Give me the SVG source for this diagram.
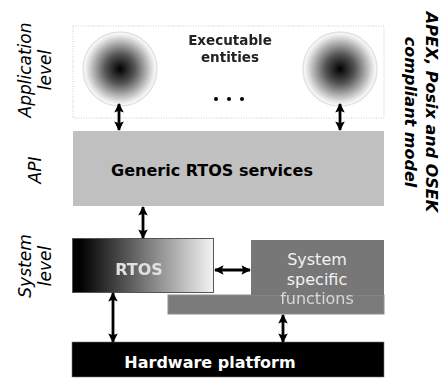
<svg xmlns="http://www.w3.org/2000/svg" width="442" height="378" viewBox="0 0 442 378">
  <style>
    .lbl { font-family: "DejaVu Sans", sans-serif; font-size: 17px; font-style: oblique; fill: #000; }
    .side { font-family: "DejaVu Sans", sans-serif; font-size: 16px; font-weight: bold; font-style: oblique; fill: #000; }
    .bold { font-family: "DejaVu Sans", sans-serif; font-size: 16px; font-weight: bold; }
    .small { font-family: "DejaVu Sans", sans-serif; font-size: 13.5px; font-weight: bold; }
    .reg { font-family: "DejaVu Sans", sans-serif; font-size: 16px; }
    .arrow { stroke: #000; stroke-width: 2.8; fill: none; marker-start: url(#head); marker-end: url(#head); }
  </style>
  <defs>
    <marker id="head" viewBox="0 0 10 10" refX="9" refY="5" markerWidth="3.4" markerHeight="3.4" orient="auto-start-reverse" markerUnits="strokeWidth">
      <path d="M0,0 L10,5 L0,10 L2,5 z" fill="#000"/>
    </marker>
    <radialGradient id="entity" cx="0.5" cy="0.5" r="0.5">
      <stop offset="0" stop-color="#000"/>
      <stop offset="0.4" stop-color="#555"/>
      <stop offset="0.9" stop-color="#e8e8e8"/>
      <stop offset="1" stop-color="#fff"/>
    </radialGradient>
    <linearGradient id="rtosFill" x1="0" y1="0" x2="1" y2="0">
      <stop offset="0" stop-color="#000"/>
      <stop offset="0.05" stop-color="#000"/>
      <stop offset="1" stop-color="#f4f4f4"/>
    </linearGradient>
    <filter id="soft" x="-10%" y="-30%" width="120%" height="160%">
      <feGaussianBlur stdDeviation="0.6"/>
    </filter>
  </defs>

  <!-- level captions on the left -->
  <g id="captions">
    <text class="lbl" transform="translate(31,70) rotate(-90)" text-anchor="middle">Application</text>
    <text class="lbl" transform="translate(51,70) rotate(-90)" text-anchor="middle">level</text>
    <text class="lbl" transform="translate(41,170) rotate(-90)" text-anchor="middle">API</text>
    <text class="lbl" transform="translate(31,266) rotate(-90)" text-anchor="middle">System</text>
    <text class="lbl" transform="translate(51,266) rotate(-90)" text-anchor="middle">level</text>
  </g>

  <!-- model caption on the right -->
  <g id="model">
    <text class="side" transform="translate(426,112) rotate(90)" text-anchor="middle">APEX, Posix and OSEK</text>
    <text class="side" transform="translate(405,112) rotate(90)" text-anchor="middle">compliant model</text>
  </g>

  <!-- application layer -->
  <g id="application">
    <rect x="73" y="26" width="311" height="92" fill="#fff" stroke="#ccc" stroke-width="1" stroke-dasharray="1,1.5"/>
    <circle cx="120" cy="69" r="37" fill="url(#entity)" stroke="#e2e2e2" stroke-width="1.5"/>
    <circle cx="340" cy="69" r="37" fill="url(#entity)" stroke="#e2e2e2" stroke-width="1.5"/>
    <g filter="url(#soft)" fill="#222">
      <text class="small" x="230" y="45" text-anchor="middle">Executable</text>
      <text class="small" x="230" y="62" text-anchor="middle">entities</text>
    </g>
    <circle cx="216" cy="99" r="2" fill="#000"/>
    <circle cx="229" cy="99" r="2" fill="#000"/>
    <circle cx="242" cy="99" r="2" fill="#000"/>
  </g>

  <!-- API layer -->
  <g id="api">
    <rect x="73" y="131" width="311" height="75" fill="#c0c0c0"/>
    <text class="bold" x="212" y="176" text-anchor="middle" fill="#000">Generic RTOS services</text>
  </g>

  <!-- RTOS kernel -->
  <g id="rtos">
    <rect x="72.5" y="238.5" width="141" height="54" fill="url(#rtosFill)" stroke="#555" stroke-width="1"/>
    <text class="bold" x="139" y="275" text-anchor="middle" fill="#e0e0e0" filter="url(#soft)">RTOS</text>
  </g>

  <!-- system specific functions -->
  <g id="system-specific">
    <rect x="168" y="295" width="216" height="19" fill="#7a7a7a" stroke="#8e8e8e" stroke-width="1" filter="url(#soft)"/>
    <rect x="251" y="240" width="133" height="55" fill="#777"/>
    <text class="reg" x="317" y="265" text-anchor="middle" fill="#f2f2f2">System</text>
    <text class="reg" x="317" y="285" text-anchor="middle" fill="#f2f2f2">specific</text>
    <text class="reg" x="317" y="304" text-anchor="middle" fill="#d8d8d8" filter="url(#soft)">functions</text>
  </g>

  <!-- hardware -->
  <g id="hardware">
    <rect x="72" y="342" width="312" height="35" fill="#000" stroke="#777" stroke-width="0.6"/>
    <text class="bold" x="210" y="368" text-anchor="middle" fill="#fff">Hardware platform</text>
  </g>

  <!-- connectors -->
  <g id="connectors">
    <line class="arrow" x1="119" y1="104" x2="119" y2="130"/>
    <line class="arrow" x1="340" y1="104" x2="340" y2="130"/>
    <line class="arrow" x1="143" y1="207" x2="143" y2="238"/>
    <line class="arrow" x1="215" y1="270" x2="250" y2="270"/>
    <line class="arrow" x1="113" y1="293" x2="113" y2="342"/>
    <line class="arrow" x1="283" y1="315" x2="283" y2="342"/>
  </g>
</svg>
